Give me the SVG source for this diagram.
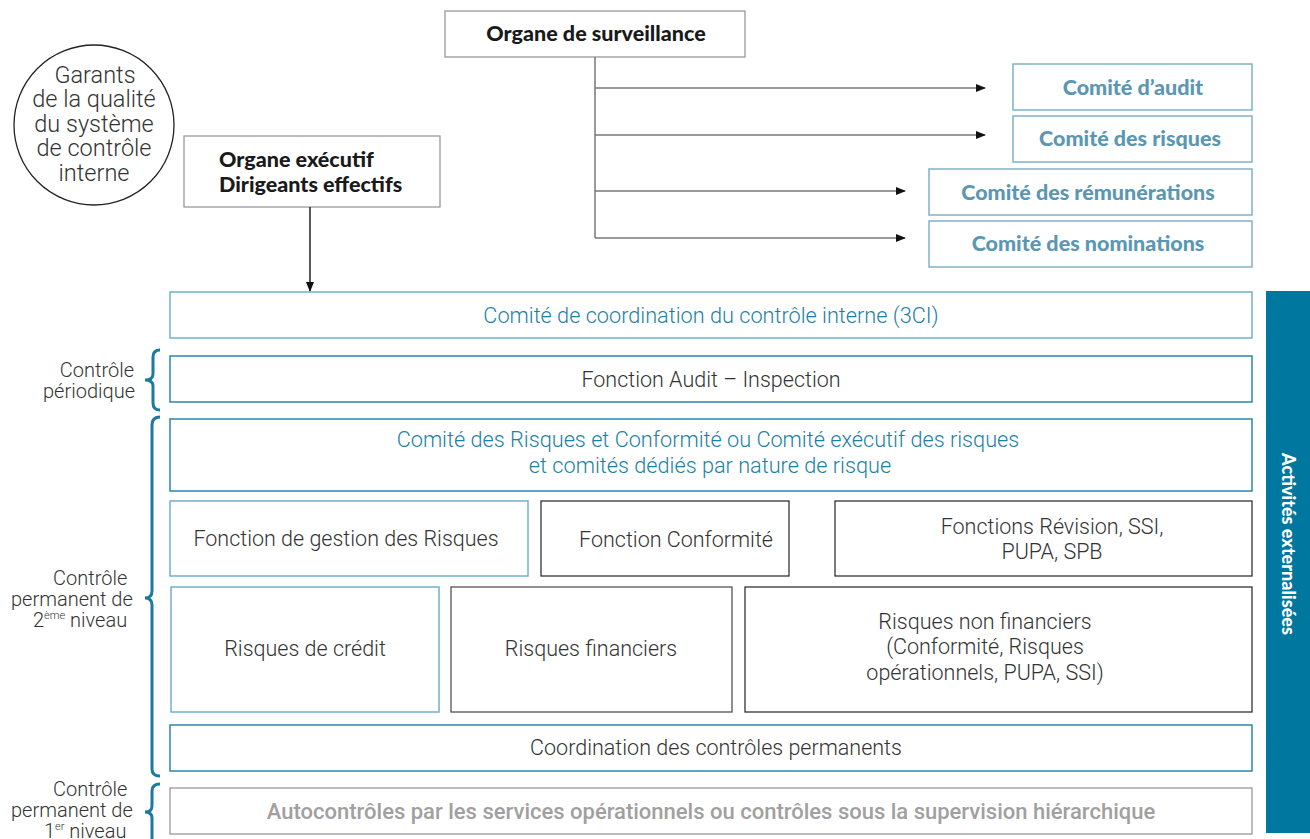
<svg xmlns="http://www.w3.org/2000/svg" width="1310" height="839" viewBox="0 0 1310 839">
<defs>
<style>
.lt{font-family:Roboto,"Liberation Sans",sans-serif;font-weight:300;font-size:21.5px;fill:#333;}
.ci{font-family:Roboto,"Liberation Sans",sans-serif;font-weight:300;font-size:23.5px;fill:#333;}
.lb{font-family:Roboto,"Liberation Sans",sans-serif;font-weight:300;font-size:20px;fill:#333;}
.bd{font-family:Lato,"Open Sans","Liberation Sans",sans-serif;font-weight:900;font-size:21.5px;fill:#1a1a1a;}
.vt{font-family:Lato,"Open Sans","Liberation Sans",sans-serif;font-weight:900;font-size:18px;fill:#fff;}
.cm{font-family:Lato,"Open Sans","Liberation Sans",sans-serif;font-weight:900;font-size:21.5px;fill:#5b97b2;}
.tl{font-family:Roboto,"Liberation Sans",sans-serif;font-weight:300;font-size:21.7px;fill:#1d7fa4;}
.gr{font-family:Roboto,"Liberation Sans",sans-serif;font-weight:500;font-size:22px;fill:#a0a0a0;}
.bx{fill:#fff;stroke:#999;stroke-width:1.3;}
.bk{fill:#fff;stroke:#333;stroke-width:1.3;}
.bl{fill:#fff;stroke:#6fb0cb;stroke-width:1.5;}
.bt{fill:#fff;stroke:#2b86aa;stroke-width:1.5;}
.cb{fill:#fff;stroke:#7fb2c8;stroke-width:1.5;}
.br{fill:none;stroke:#1a7aa0;stroke-width:3;}
.cn{stroke:#777;stroke-width:1.5;fill:none;}
.sup{font-size:11px;}
</style>
<marker id="ah" markerWidth="10" markerHeight="8" refX="9" refY="4" orient="auto" markerUnits="userSpaceOnUse">
<path d="M0,0 L10,4 L0,8 Z" fill="#111"/>
</marker>
</defs>
<rect width="1310" height="839" fill="#fff"/>

<g id="garants">
<circle cx="94" cy="125" r="80" fill="#fff" stroke="#222" stroke-width="1.3"/>
<text class="ci" text-anchor="middle" x="95" y="83">Garants</text>
<text class="ci" text-anchor="middle" x="94" y="107">de la qualité</text>
<text class="ci" text-anchor="middle" x="94" y="132">du système</text>
<text class="ci" text-anchor="middle" x="94" y="156">de contrôle</text>
<text class="ci" text-anchor="middle" x="94" y="181">interne</text>
</g>

<g id="organe-surveillance">
<rect class="bx" x="445" y="11" width="300" height="46"/>
<text class="bd" text-anchor="middle" x="596" y="41">Organe de surveillance</text>
</g>

<g id="organe-executif">
<rect class="bx" x="184" y="136" width="256" height="71"/>
<text class="bd" x="219" y="167">Organe exécutif</text>
<text class="bd" x="219" y="192">Dirigeants effectifs</text>
</g>

<g id="connectors">
<path class="cn" d="M595,57 V238"/>
<path class="cn" d="M595,88 H985" marker-end="url(#ah)"/>
<path class="cn" d="M595,135 H985" marker-end="url(#ah)"/>
<path class="cn" d="M595,191 H905" marker-end="url(#ah)"/>
<path class="cn" d="M595,238 H905" marker-end="url(#ah)"/>
<path class="cn" style="stroke:#222" d="M310,207 V291" marker-end="url(#ah)"/>
</g>

<g id="comite-audit">
<rect class="cb" x="1013" y="64" width="239" height="46"/>
<text class="cm" text-anchor="middle" x="1133" y="95">Comité d’audit</text>
</g>
<g id="comite-risques">
<rect class="cb" x="1013" y="116" width="239" height="46"/>
<text class="cm" text-anchor="middle" x="1130" y="146">Comité des risques</text>
</g>
<g id="comite-remunerations">
<rect class="cb" x="929" y="169" width="323" height="46"/>
<text class="cm" text-anchor="middle" x="1088" y="200">Comité des rémunérations</text>
</g>
<g id="comite-nominations">
<rect class="cb" x="929" y="221" width="323" height="46"/>
<text class="cm" text-anchor="middle" x="1088" y="251">Comité des nominations</text>
</g>

<g id="comite-3ci">
<rect class="bl" x="170" y="292" width="1082" height="46"/>
<text class="tl" text-anchor="middle" x="711" y="323">Comité de coordination du contrôle interne (3CI)</text>
</g>

<g id="audit-inspection">
<rect class="bt" x="170" y="356" width="1082" height="46"/>
<text class="lt" text-anchor="middle" x="711" y="387">Fonction Audit – Inspection</text>
</g>

<g id="comite-risques-conformite">
<rect class="bt" x="170" y="419" width="1082" height="72"/>
<text class="tl" text-anchor="middle" x="708" y="447">Comité des Risques et Conformité ou Comité exécutif des risques</text>
<text class="tl" text-anchor="middle" x="710" y="473">et comités dédiés par nature de risque</text>
</g>

<g id="fonction-risques">
<rect class="bl" x="170" y="501" width="358" height="75"/>
<text class="lt" text-anchor="middle" x="346" y="546">Fonction de gestion des Risques</text>
</g>
<g id="fonction-conformite">
<rect class="bk" x="541" y="501" width="248" height="75"/>
<text class="lt" text-anchor="middle" x="676" y="547">Fonction Conformité</text>
</g>
<g id="fonctions-revision">
<rect class="bk" x="835" y="501" width="417" height="75"/>
<text class="lt" text-anchor="middle" x="1052" y="534">Fonctions Révision, SSI,</text>
<text class="lt" text-anchor="middle" x="1052" y="559">PUPA, SPB</text>
</g>

<g id="risques-credit">
<rect class="bl" x="171" y="587" width="268" height="125"/>
<text class="lt" text-anchor="middle" x="305" y="656">Risques de crédit</text>
</g>
<g id="risques-financiers">
<rect class="bx" style="stroke:#555" x="451" y="587" width="281" height="125"/>
<text class="lt" text-anchor="middle" x="591" y="656">Risques financiers</text>
</g>
<g id="risques-non-financiers">
<rect class="bk" x="745" y="587" width="507" height="125"/>
<text class="lt" text-anchor="middle" x="985" y="629">Risques non financiers</text>
<text class="lt" text-anchor="middle" x="985" y="654">(Conformité, Risques</text>
<text class="lt" text-anchor="middle" x="985" y="680">opérationnels, PUPA, SSI)</text>
</g>

<g id="coordination">
<rect class="bt" x="170" y="725" width="1082" height="46"/>
<text class="lt" text-anchor="middle" x="716" y="755">Coordination des contrôles permanents</text>
</g>

<g id="autocontroles">
<rect class="bx" x="170" y="788" width="1082" height="46"/>
<text class="gr" text-anchor="middle" x="711" y="819">Autocontrôles par les services opérationnels ou contrôles sous la supervision hiérarchique</text>
</g>

<g id="activites-externalisees">
<rect x="1266" y="291" width="44" height="542" fill="#00779e"/>
<text class="vt" text-anchor="middle" transform="translate(1282,544) rotate(90)">Activités externalisées</text>
</g>

<g id="label-periodique">
<path class="br" d="M160,350 Q153,350 153,357 L153,374 Q153,380 145,380 Q153,380 153,386 L153,403 Q153,410 160,410"/>
<text class="lb" text-anchor="end" x="134" y="377">Contrôle</text>
<text class="lb" text-anchor="end" x="135" y="398">périodique</text>
</g>

<g id="label-2eme">
<path class="br" d="M160,417 Q152,417 152,425 L152,591 Q152,598 145,598 Q152,598 152,605 L152,769 Q152,776 160,776"/>
<text class="lb" x="53" y="585">Contrôle</text>
<text class="lb" x="11" y="606">permanent de</text>
<text class="lb" x="33" y="627">2<tspan class="sup" dy="-8">ème</tspan><tspan dy="8"> niveau</tspan></text>
</g>

<g id="label-1er">
<path class="br" d="M160,784 Q152,784 152,791 L152,806 Q152,812 145,812 Q152,812 152,818 L152,839"/>
<text class="lb" x="53" y="796">Contrôle</text>
<text class="lb" x="11" y="817">permanent de</text>
<text class="lb" x="44" y="838">1<tspan class="sup" dy="-8">er</tspan><tspan dy="8"> niveau</tspan></text>
</g>
</svg>
